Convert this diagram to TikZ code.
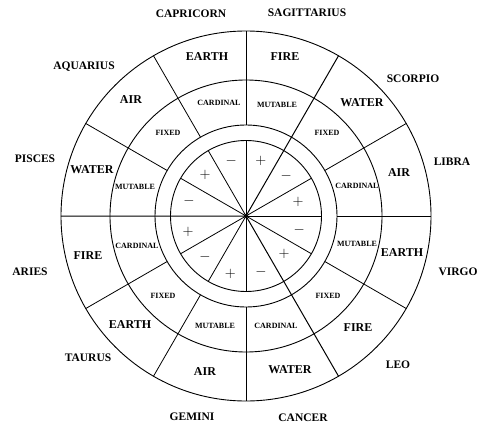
\documentclass[tikz,border=0pt]{standalone}
\usepackage{fontspec}
\setmainfont{Liberation Serif}

\begin{document}
\begin{tikzpicture}[x=1pt, y=1pt,
  sign/.style={font=\bfseries\fontsize{11.5}{12}\selectfont, inner sep=0pt},
  elem/.style={font=\bfseries\fontsize{12}{13}\selectfont, inner sep=0pt},
  mode/.style={font=\bfseries\fontsize{8}{9}\selectfont, inner sep=0pt},
  pol/.style={font=\fontsize{14}{14}\selectfont, inner sep=0pt},
  ring/.style={line width=0.9pt},
  spoke/.style={line width=0.8pt},
  axis/.style={line width=1pt}
]
\useasboundingbox (-246,-212) rectangle (235,216);
\draw[ring] (0,0) circle (185) (0,0) circle (136) (0,0) circle (91) (0,0) circle (75.5);
\foreach \a in {0,30,90,120,150,210,240,270,330} {
  \draw[spoke] (0,0) -- (\a:75.5);
  \draw[spoke] (\a:91) -- (\a:185);
}
\draw[axis] (60:185) -- (0,0) -- (180:185);
\draw[axis] (0,0) -- (300:185);
\fill (0,0) circle (2);

\node[sign] (capricorn) at (-55,202) {CAPRICORN};
\node[sign] (sagittarius) at (61,203) {SAGITTARIUS};
\node[sign] (aquarius) at (-162,149) {AQUARIUS};
\node[sign] (scorpio) at (167,137) {SCORPIO};
\node[sign] (pisces) at (-211,57) {PISCES};
\node[sign] (libra) at (206,54) {LIBRA};
\node[sign] (aries) at (-216,-56) {ARIES};
\node[sign] (virgo) at (212,-56) {VIRGO};
\node[sign] (taurus) at (-158,-142) {TAURUS};
\node[sign] (leo) at (152,-149) {LEO};
\node[sign] (gemini) at (-54,-201) {GEMINI};
\node[sign] (cancer) at (57,-202) {CANCER};

\node[elem] (earthCap) at (-39,159) {EARTH};
\node[elem] (fireSag) at (39,159) {FIRE};
\node[elem] (airAqu) at (-115,116) {AIR};
\node[elem] (waterSco) at (116,113) {WATER};
\node[elem] (waterPis) at (-154,46) {WATER};
\node[elem] (airLib) at (153,43) {AIR};
\node[elem] (fireAri) at (-158,-40) {FIRE};
\node[elem] (earthVir) at (156,-37) {EARTH};
\node[elem] (earthTau) at (-116,-109) {EARTH};
\node[elem] (fireLeo) at (112,-112) {FIRE};
\node[elem] (airGem) at (-41,-156) {AIR};
\node[elem] (waterCan) at (44,-154) {WATER};

\node[mode] (cardCap) at (-27,113) {CARDINAL};
\node[mode] (mutSag) at (31,111) {MUTABLE};
\node[mode] (fixAqu) at (-78,83) {FIXED};
\node[mode] (fixSco) at (81,83) {FIXED};
\node[mode] (mutPis) at (-111,29) {MUTABLE};
\node[mode] (cardLib) at (111,30) {CARDINAL};
\node[mode] (cardAri) at (-109,-30) {CARDINAL};
\node[mode] (mutVir) at (111,-28) {MUTABLE};
\node[mode] (fixTau) at (-83,-80) {FIXED};
\node[mode] (fixLeo) at (82,-80) {FIXED};
\node[mode] (mutGem) at (-31,-110) {MUTABLE};
\node[mode] (cardCan) at (30,-110) {CARDINAL};

\node[pol] (pmCap) at (105:57) {$-$};
\node[pol] (pmSag) at (75:57) {$+$};
\node[pol] (pmSco) at (45:57) {$-$};
\node[pol] (pmLib) at (15:54) {$+$};
\node[pol] (pmVir) at (-15:55) {$-$};
\node[pol] (pmLeo) at (-45:54) {$+$};
\node[pol] (pmCan) at (-75:58) {$-$};
\node[pol] (pmGem) at (-105:60) {$+$};
\node[pol] (pmTau) at (-135:58) {$-$};
\node[pol] (pmAri) at (195:60) {$+$};
\node[pol] (pmPis) at (165:59) {$-$};
\node[pol] (pmAqu) at (135:58) {$+$};
\end{tikzpicture}
\end{document}
